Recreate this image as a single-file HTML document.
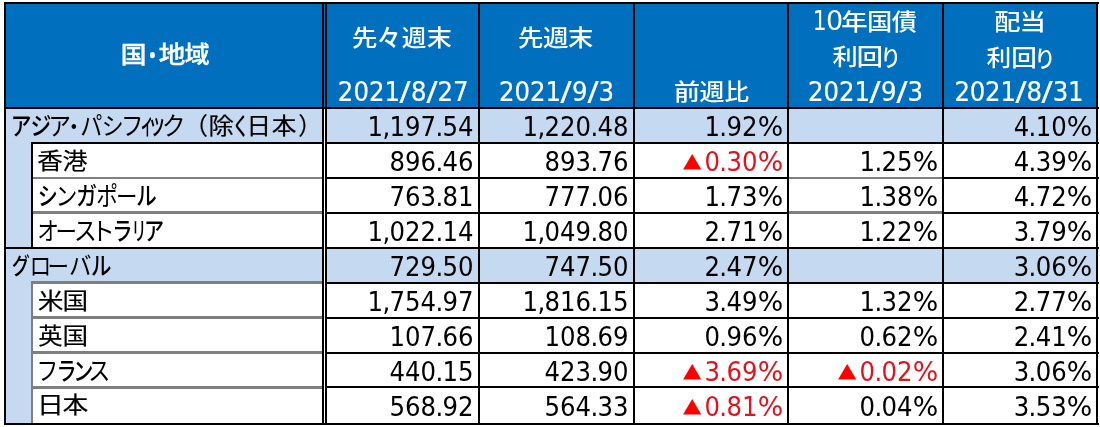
<!DOCTYPE html>
<html lang="ja">
<head>
<meta charset="utf-8">
<title>REIT指数 国・地域別</title>
<style>
html,body{margin:0;padding:0;background:#fff;}
body{width:1100px;height:427px;position:relative;overflow:hidden;}
#t{position:absolute;left:0;top:0;width:1100px;height:427px;overflow:hidden;font-family:"DejaVu Sans","Noto Sans CJK JP",sans-serif;color:#000;}
#t i{position:absolute;display:block;}
#t table{border-collapse:collapse;border-spacing:0;table-layout:fixed;width:1094px;margin:2px 0 0 4px;border:0;background:transparent;font-size:0;line-height:0;}
#t th,#t td{padding:0;border:0;margin:0;background:transparent;font-weight:normal;text-align:left;overflow:visible;}
#t span{position:absolute;white-space:nowrap;line-height:1;display:block;}
#t span.g{left:0;width:1100px;height:0;}
#t span.g b{position:absolute;top:0;left:0;display:block;font-weight:inherit;transform-origin:0 0.96em;line-height:1;}
#t span.g b.d{font-family:"DejaVu Sans","Liberation Sans",sans-serif;}
.n{font-family:"DejaVu Sans","Liberation Sans",sans-serif;}
.j{font-family:"Noto Sans CJK JP","Liberation Sans",sans-serif;}
.k{-webkit-text-stroke:0.2px #000;}
.hd{-webkit-text-stroke:0.2px #fff;}
.w{color:#fff;}
.hb{-webkit-text-stroke:0.35px #fff;}

.r{color:#E01420;}
.sl{display:inline-block;font-weight:normal;transform:scaleX(1.35);margin:0 1.4px;}
.p{display:inline-block;font-weight:normal;margin:0 -0.65px;}
.pc{display:inline-block;font-weight:normal;transform:scaleX(1.10);transform-origin:100% 50%;margin-left:2.2px;}
.tri{font-weight:normal;font-family:"Noto Sans CJK JP","DejaVu Sans",sans-serif;display:inline-block;font-size:19.4px;position:relative;top:-1.2px;margin-right:2.6px;color:#FF0000;transform:scaleY(0.93);transform-origin:50% 88%;}
</style>
</head>
<body>
<div id="t">
<div class="grid" aria-hidden="true">
<i style="left:4px;top:2px;width:1094px;height:107px;background:#006FBD"></i>
<i style="left:4px;top:107px;width:1094px;height:35px;background:#C5D9F1"></i>
<i style="left:4px;top:247px;width:1094px;height:35px;background:#C5D9F1"></i>
<i style="left:4px;top:142px;width:27px;height:105px;background:#C5D9F1"></i>
<i style="left:4px;top:282px;width:27px;height:141px;background:#C5D9F1"></i>
<i style="left:4px;top:2px;width:1095px;height:2px;background:#000"></i>
<i style="left:4px;top:423px;width:1095px;height:2px;background:#000"></i>
<i style="left:4px;top:107px;width:1095px;height:2px;background:#000"></i>
<i style="left:31px;top:142px;width:1068px;height:2px;background:#000"></i>
<i style="left:31px;top:177px;width:291px;height:2px;background:#7f7f7f"></i>
<i style="left:322px;top:177px;width:777px;height:2px;background:#000"></i>
<i style="left:31px;top:211px;width:291px;height:3px;background:#7f7f7f"></i>
<i style="left:322px;top:212px;width:777px;height:2px;background:#000"></i>
<i style="left:4px;top:247px;width:1095px;height:2px;background:#000"></i>
<i style="left:31px;top:281px;width:291px;height:3px;background:#7f7f7f"></i>
<i style="left:322px;top:282px;width:777px;height:2px;background:#000"></i>
<i style="left:31px;top:316px;width:291px;height:3px;background:#7f7f7f"></i>
<i style="left:322px;top:317px;width:777px;height:2px;background:#000"></i>
<i style="left:31px;top:351px;width:291px;height:3px;background:#7f7f7f"></i>
<i style="left:322px;top:352px;width:777px;height:2px;background:#000"></i>
<i style="left:31px;top:386px;width:291px;height:3px;background:#7f7f7f"></i>
<i style="left:322px;top:386px;width:777px;height:2px;background:#000"></i>
<i style="left:789px;top:177px;width:153px;height:2px;background:#7f7f7f"></i>
<i style="left:789px;top:211px;width:153px;height:3px;background:#7f7f7f"></i>
<i style="left:4px;top:2px;width:2px;height:423px;background:#000"></i>
<i style="left:1096px;top:2px;width:2px;height:423px;background:#000"></i>
<i style="left:478px;top:2px;width:2px;height:423px;background:#000"></i>
<i style="left:633px;top:2px;width:2px;height:423px;background:#000"></i>
<i style="left:787px;top:2px;width:2px;height:423px;background:#000"></i>
<i style="left:942px;top:2px;width:2px;height:423px;background:#000"></i>
<i style="left:322px;top:2px;width:2px;height:423px;background:#000"></i>
<i style="left:325px;top:2px;width:2px;height:423px;background:#000"></i>
<i style="left:324px;top:109px;width:1px;height:314px;background:#fff"></i>
<i style="left:31px;top:142px;width:2px;height:105px;background:#000"></i>
<i style="left:31px;top:282px;width:2px;height:141px;background:#7f7f7f"></i>
</div>
<table>
<colgroup><col style="width:321px"><col style="width:154px"><col style="width:155px"><col style="width:154px"><col style="width:155px"><col style="width:155px"></colgroup>
<thead>
<tr style="height:106px">
<th scope="col"><span class="g j w hb" aria-label="国・地域" style="top:40.70px;font-size:24.6px;font-weight:500"><b style="transform:translate(120.79px,-0.75px) scale(1.047,0.95)">国</b><b style="transform:translate(142.39px,1.2px) scale(0.806,1.0)">・</b><b style="transform:translate(158.85px,-0.75px) scale(1.083,0.95)">地</b><b style="transform:translate(184.49px,-0.75px) scale(1.023,0.95)">域</b></span></th>
<th scope="col"><span class="g j w" aria-label="先々週末" style="top:23.50px;font-size:24.6px;font-weight:500"><b style="transform:translate(351.88px,-0.75px) scale(1.035,0.94)">先</b><b style="transform:translate(376.72px,-0.45px) scale(0.987,1.015)">々</b><b style="transform:translate(401.69px,-0.75px) scale(1.001,0.94)">週</b><b style="transform:translate(426.82px,-0.75px) scale(1.021,0.94)">末</b></span><br><span class="n w hd" aria-label="2021/8/27" style="left:103.19999999999999px;width:600px;text-align:center;top:81.3px;font-size:24.4px;transform:scale(1,1.06);transform-origin:center 85%">2021<b class="sl">/</b>8<b class="sl">/</b>27</span></th>
<th scope="col"><span class="g j w" aria-label="先週末" style="top:23.50px;font-size:24.6px;font-weight:500"><b style="transform:translate(517.98px,-0.75px) scale(1.035,0.94)">先</b><b style="transform:translate(543.06px,-0.75px) scale(1.04,0.94)">週</b><b style="transform:translate(568.12px,-0.75px) scale(1.025,0.94)">末</b></span><br><span class="n w hd" aria-label="2021/9/3" style="left:256.5px;width:600px;text-align:center;top:81.3px;font-size:24.4px;transform:scale(1,1.06);transform-origin:center 85%">2021<b class="sl">/</b>9<b class="sl">/</b>3</span></th>
<th scope="col"><span class="g j w" aria-label="前週比" style="top:78.00px;font-size:24.6px;font-weight:500"><b style="transform:translate(673.78px,-0.75px) scale(1.069,0.94)">前</b><b style="transform:translate(699.57px,-0.75px) scale(1.018,0.94)">週</b><b style="transform:translate(724.61px,-0.75px) scale(1.001,0.94)">比</b></span></th>
<th scope="col"><span class="g j w" aria-label="10年国債" style="top:7.90px;font-size:24.6px;font-weight:500"><b class="d" style="transform:translate(812.7px,2.50px) scale(0.89,1.06)">1</b><b class="d" style="transform:translate(825.92px,2.50px) scale(1.097,1.06)">0</b><b style="transform:translate(841.14px,-0.75px) scale(1.073,0.94)">年</b><b style="transform:translate(866.93px,-0.75px) scale(1.027,0.94)">国</b><b style="transform:translate(891.77px,-0.75px) scale(1.022,0.94)">債</b></span><br><span class="g j w" aria-label="利回り" style="top:43.00px;font-size:24.6px;font-weight:500"><b style="transform:translate(832.49px,-0.75px) scale(1.026,0.94)">利</b><b style="transform:translate(856.68px,-0.75px) scale(1.065,0.94)">回</b><b style="transform:translate(880.17px,0px) scale(0.852,0.93)">り</b></span><br><span class="n w hd" aria-label="2021/9/3" style="left:565.5px;width:600px;text-align:center;top:81.3px;font-size:24.4px;transform:scale(1,1.06);transform-origin:center 85%">2021<b class="sl">/</b>9<b class="sl">/</b>3</span></th>
<th scope="col"><span class="g j w" aria-label="配当" style="top:7.70px;font-size:24.6px;font-weight:500"><b style="transform:translate(994.36px,-0.75px) scale(1.069,0.94)">配</b><b style="transform:translate(1019.44px,-0.75px) scale(1.075,0.94)">当</b></span><br><span class="g j w" aria-label="利回り" style="top:43.50px;font-size:24.6px;font-weight:500"><b style="transform:translate(986.61px,-0.75px) scale(1.004,0.94)">利</b><b style="transform:translate(1011.33px,-0.75px) scale(1.041,0.94)">回</b><b style="transform:translate(1034.1px,0px) scale(0.886,0.93)">り</b></span><br><span class="n w hd" aria-label="2021/8/31" style="left:718.9px;width:600px;text-align:center;top:81.3px;font-size:24.4px;letter-spacing:-0.2px;transform:scale(1,1.06);transform-origin:center 85%">2021<b class="sl">/</b>8<b class="sl">/</b>31</span></th>
</tr>
</thead>
<tbody>
<tr class="grp" style="height:35px">
<th scope="row"><span class="g j" aria-label="アジア・パシフィック（除く日本）" style="top:113.00px;font-size:24px;font-weight:400"><b style="transform:translate(10.63px,0px) scale(0.866,1.04);font-weight:500">ア</b><b style="transform:translate(30.46px,0px) scale(0.874,1.04);font-weight:500">ジ</b><b style="transform:translate(48.62px,0px) scale(0.935,1.04)">ア</b><b style="transform:translate(63.14px,0px) scale(0.884,1.0)">・</b><b style="transform:translate(80.18px,0px) scale(0.924,1.04)">パ</b><b style="transform:translate(101.68px,0px) scale(0.914,1.04)">シ</b><b style="transform:translate(120.94px,0px) scale(0.937,1.04)">フ</b><b style="transform:translate(140.21px,-0.8px) scale(0.575,1.15);font-weight:500">ィ</b><b style="transform:translate(148.03px,-0.8px) scale(0.747,1.15);font-weight:500">ッ</b><b style="transform:translate(162.07px,0px) scale(0.981,1.04)">ク</b><b class="k" style="transform:translate(184.06px,-1.0px) scale(0.997,1.0)">（</b><b class="k" style="transform:translate(208.55px,-0.75px) scale(1.057,0.97)">除</b><b style="transform:translate(232.48px,0px) scale(0.697,1.04);font-weight:500">く</b><b class="k" style="transform:translate(246.58px,-0.75px) scale(1.023,0.97)">日</b><b class="k" style="transform:translate(271.74px,-0.75px) scale(1.027,0.97)">本</b><b class="k" style="transform:translate(298.13px,-1.0px) scale(0.965,1.0)">）</b></span></th>
<td><span class="n" aria-label="1,197.54" style="right:626.4px;top:115.6px;font-size:24.4px;transform:scale(1,1.06);transform-origin:right 85%">1<b class="p">,</b>197<b class="p">.</b>54</span></td>
<td><span class="n" aria-label="1,220.48" style="right:471.4px;top:115.6px;font-size:24.4px;transform:scale(1,1.06);transform-origin:right 85%">1<b class="p">,</b>220<b class="p">.</b>48</span></td>
<td><span class="n" aria-label="1.92%" style="right:317.2px;top:115.6px;font-size:24.4px;transform:scale(1,1.06);transform-origin:right 85%">1<b class="p">.</b>92<b class="pc">%</b></span></td>
<td></td>
<td><span class="n" aria-label="4.10%" style="right:7.9px;top:115.6px;font-size:24.4px;transform:scale(1,1.06);transform-origin:right 85%">4<b class="p">.</b>10<b class="pc">%</b></span></td>
</tr>
<tr style="height:35px">
<th scope="row"><span class="g j" aria-label="香港" style="top:148.00px;font-size:24px;font-weight:400"><b class="k" style="transform:translate(37.26px,-0.75px) scale(1.064,0.97)">香</b><b class="k" style="transform:translate(62.53px,-0.75px) scale(1.041,0.97)">港</b></span></th>
<td><span class="n" aria-label="896.46" style="right:626.4px;top:150.6px;font-size:24.4px;transform:scale(1,1.06);transform-origin:right 85%">896<b class="p">.</b>46</span></td>
<td><span class="n" aria-label="893.76" style="right:471.4px;top:150.6px;font-size:24.4px;transform:scale(1,1.06);transform-origin:right 85%">893<b class="p">.</b>76</span></td>
<td><span class="n r" aria-label="▲0.30%" style="right:317.2px;top:150.6px;font-size:24.4px;transform:scale(1,1.06);transform-origin:right 85%"><b class="tri">▲</b>0<b class="p">.</b>30<b class="pc">%</b></span></td>
<td><span class="n" aria-label="1.25%" style="right:162.0px;top:150.6px;font-size:24.4px;transform:scale(1,1.06);transform-origin:right 85%">1<b class="p">.</b>25<b class="pc">%</b></span></td>
<td><span class="n" aria-label="4.39%" style="right:7.9px;top:150.6px;font-size:24.4px;transform:scale(1,1.06);transform-origin:right 85%">4<b class="p">.</b>39<b class="pc">%</b></span></td>
</tr>
<tr style="height:35px">
<th scope="row"><span class="g j" aria-label="シンガポール" style="top:183.00px;font-size:24px;font-weight:400"><b style="transform:translate(37.69px,0px) scale(0.837,1.04);font-weight:500">シ</b><b style="transform:translate(55.62px,0px) scale(0.911,1.04)">ン</b><b style="transform:translate(76.18px,0px) scale(0.864,1.04);font-weight:500">ガ</b><b style="transform:translate(96.17px,0px) scale(0.908,1.04)">ポ</b><b style="transform:translate(115.91px,0px) scale(0.896,1.0)">ー</b><b style="transform:translate(136.19px,0px) scale(0.855,1.04);font-weight:500">ル</b></span></th>
<td><span class="n" aria-label="763.81" style="right:626.4px;top:185.6px;font-size:24.4px;transform:scale(1,1.06);transform-origin:right 85%">763<b class="p">.</b>81</span></td>
<td><span class="n" aria-label="777.06" style="right:471.4px;top:185.6px;font-size:24.4px;transform:scale(1,1.06);transform-origin:right 85%">777<b class="p">.</b>06</span></td>
<td><span class="n" aria-label="1.73%" style="right:317.2px;top:185.6px;font-size:24.4px;transform:scale(1,1.06);transform-origin:right 85%">1<b class="p">.</b>73<b class="pc">%</b></span></td>
<td><span class="n" aria-label="1.38%" style="right:162.0px;top:185.6px;font-size:24.4px;transform:scale(1,1.06);transform-origin:right 85%">1<b class="p">.</b>38<b class="pc">%</b></span></td>
<td><span class="n" aria-label="4.72%" style="right:7.9px;top:185.6px;font-size:24.4px;transform:scale(1,1.06);transform-origin:right 85%">4<b class="p">.</b>72<b class="pc">%</b></span></td>
</tr>
<tr style="height:35px">
<th scope="row"><span class="g j" aria-label="オーストラリア" style="top:218.00px;font-size:24px;font-weight:400"><b style="transform:translate(37.24px,0px) scale(0.903,1.04)">オ</b><b style="transform:translate(55.51px,0px) scale(0.896,1.0)">ー</b><b style="transform:translate(74.02px,0px) scale(0.949,1.04)">ス</b><b style="transform:translate(91.12px,0px) scale(0.997,1.04)">ト</b><b style="transform:translate(112.32px,0px) scale(0.847,1.04);font-weight:500">ラ</b><b style="transform:translate(131.6px,0px) scale(0.619,1.04);font-weight:500">リ</b><b style="transform:translate(143.9px,0px) scale(0.84,1.04);font-weight:500">ア</b></span></th>
<td><span class="n" aria-label="1,022.14" style="right:626.4px;top:220.6px;font-size:24.4px;transform:scale(1,1.06);transform-origin:right 85%">1<b class="p">,</b>022<b class="p">.</b>14</span></td>
<td><span class="n" aria-label="1,049.80" style="right:471.4px;top:220.6px;font-size:24.4px;transform:scale(1,1.06);transform-origin:right 85%">1<b class="p">,</b>049<b class="p">.</b>80</span></td>
<td><span class="n" aria-label="2.71%" style="right:317.2px;top:220.6px;font-size:24.4px;transform:scale(1,1.06);transform-origin:right 85%">2<b class="p">.</b>71<b class="pc">%</b></span></td>
<td><span class="n" aria-label="1.22%" style="right:162.0px;top:220.6px;font-size:24.4px;transform:scale(1,1.06);transform-origin:right 85%">1<b class="p">.</b>22<b class="pc">%</b></span></td>
<td><span class="n" aria-label="3.79%" style="right:7.9px;top:220.6px;font-size:24.4px;transform:scale(1,1.06);transform-origin:right 85%">3<b class="p">.</b>79<b class="pc">%</b></span></td>
</tr>
<tr class="grp" style="height:35px">
<th scope="row"><span class="g j" aria-label="グローバル" style="top:253.00px;font-size:24px;font-weight:400"><b style="transform:translate(11.69px,-0.6px) scale(0.754,0.946);font-weight:500">グ</b><b style="transform:translate(29.54px,0px) scale(0.909,1.04)">ロ</b><b style="transform:translate(47.61px,0px) scale(0.896,1.0)">ー</b><b style="transform:translate(69.06px,0px) scale(0.936,1.04)">バ</b><b style="transform:translate(90.99px,0px) scale(0.855,1.04);font-weight:500">ル</b></span></th>
<td><span class="n" aria-label="729.50" style="right:626.4px;top:255.6px;font-size:24.4px;transform:scale(1,1.06);transform-origin:right 85%">729<b class="p">.</b>50</span></td>
<td><span class="n" aria-label="747.50" style="right:471.4px;top:255.6px;font-size:24.4px;transform:scale(1,1.06);transform-origin:right 85%">747<b class="p">.</b>50</span></td>
<td><span class="n" aria-label="2.47%" style="right:317.2px;top:255.6px;font-size:24.4px;transform:scale(1,1.06);transform-origin:right 85%">2<b class="p">.</b>47<b class="pc">%</b></span></td>
<td></td>
<td><span class="n" aria-label="3.06%" style="right:7.9px;top:255.6px;font-size:24.4px;transform:scale(1,1.06);transform-origin:right 85%">3<b class="p">.</b>06<b class="pc">%</b></span></td>
</tr>
<tr style="height:35px">
<th scope="row"><span class="g j" aria-label="米国" style="top:288.00px;font-size:24px;font-weight:400"><b class="k" style="transform:translate(37.7px,-0.75px) scale(1.076,0.97)">米</b><b class="k" style="transform:translate(62.5px,-0.75px) scale(1.067,0.97)">国</b></span></th>
<td><span class="n" aria-label="1,754.97" style="right:626.4px;top:290.6px;font-size:24.4px;transform:scale(1,1.06);transform-origin:right 85%">1<b class="p">,</b>754<b class="p">.</b>97</span></td>
<td><span class="n" aria-label="1,816.15" style="right:471.4px;top:290.6px;font-size:24.4px;transform:scale(1,1.06);transform-origin:right 85%">1<b class="p">,</b>816<b class="p">.</b>15</span></td>
<td><span class="n" aria-label="3.49%" style="right:317.2px;top:290.6px;font-size:24.4px;transform:scale(1,1.06);transform-origin:right 85%">3<b class="p">.</b>49<b class="pc">%</b></span></td>
<td><span class="n" aria-label="1.32%" style="right:162.0px;top:290.6px;font-size:24.4px;transform:scale(1,1.06);transform-origin:right 85%">1<b class="p">.</b>32<b class="pc">%</b></span></td>
<td><span class="n" aria-label="2.77%" style="right:7.9px;top:290.6px;font-size:24.4px;transform:scale(1,1.06);transform-origin:right 85%">2<b class="p">.</b>77<b class="pc">%</b></span></td>
</tr>
<tr style="height:35px">
<th scope="row"><span class="g j" aria-label="英国" style="top:323.00px;font-size:24px;font-weight:400"><b class="k" style="transform:translate(38.18px,-0.75px) scale(1.011,0.97)">英</b><b class="k" style="transform:translate(62.5px,-0.75px) scale(1.067,0.97)">国</b></span></th>
<td><span class="n" aria-label="107.66" style="right:626.4px;top:325.6px;font-size:24.4px;transform:scale(1,1.06);transform-origin:right 85%">107<b class="p">.</b>66</span></td>
<td><span class="n" aria-label="108.69" style="right:471.4px;top:325.6px;font-size:24.4px;transform:scale(1,1.06);transform-origin:right 85%">108<b class="p">.</b>69</span></td>
<td><span class="n" aria-label="0.96%" style="right:317.2px;top:325.6px;font-size:24.4px;transform:scale(1,1.06);transform-origin:right 85%">0<b class="p">.</b>96<b class="pc">%</b></span></td>
<td><span class="n" aria-label="0.62%" style="right:162.0px;top:325.6px;font-size:24.4px;transform:scale(1,1.06);transform-origin:right 85%">0<b class="p">.</b>62<b class="pc">%</b></span></td>
<td><span class="n" aria-label="2.41%" style="right:7.9px;top:325.6px;font-size:24.4px;transform:scale(1,1.06);transform-origin:right 85%">2<b class="p">.</b>41<b class="pc">%</b></span></td>
</tr>
<tr style="height:34px">
<th scope="row"><span class="g j" aria-label="フランス" style="top:358.00px;font-size:24px;font-weight:400"><b style="transform:translate(36.44px,0px) scale(0.908,1.04)">フ</b><b style="transform:translate(56.45px,0px) scale(0.836,1.04);font-weight:500">ラ</b><b style="transform:translate(73.19px,0px) scale(0.837,1.04);font-weight:500">ン</b><b style="transform:translate(88.2px,0px) scale(0.918,1.04)">ス</b></span></th>
<td><span class="n" aria-label="440.15" style="right:626.4px;top:360.6px;font-size:24.4px;transform:scale(1,1.06);transform-origin:right 85%">440<b class="p">.</b>15</span></td>
<td><span class="n" aria-label="423.90" style="right:471.4px;top:360.6px;font-size:24.4px;transform:scale(1,1.06);transform-origin:right 85%">423<b class="p">.</b>90</span></td>
<td><span class="n r" aria-label="▲3.69%" style="right:317.2px;top:360.6px;font-size:24.4px;transform:scale(1,1.06);transform-origin:right 85%"><b class="tri">▲</b>3<b class="p">.</b>69<b class="pc">%</b></span></td>
<td><span class="n r" aria-label="▲0.02%" style="right:162.0px;top:360.6px;font-size:24.4px;transform:scale(1,1.06);transform-origin:right 85%"><b class="tri">▲</b>0<b class="p">.</b>02<b class="pc">%</b></span></td>
<td><span class="n" aria-label="3.06%" style="right:7.9px;top:360.6px;font-size:24.4px;transform:scale(1,1.06);transform-origin:right 85%">3<b class="p">.</b>06<b class="pc">%</b></span></td>
</tr>
<tr style="height:38px">
<th scope="row"><span class="g j" aria-label="日本" style="top:392.30px;font-size:24px;font-weight:400"><b class="k" style="transform:translate(36.88px,-0.75px) scale(1.118,0.97)">日</b><b class="k" style="transform:translate(62.4px,-0.75px) scale(1.072,0.97)">本</b></span></th>
<td><span class="n" aria-label="568.92" style="right:626.4px;top:395.6px;font-size:24.4px;transform:scale(1,1.06);transform-origin:right 85%">568<b class="p">.</b>92</span></td>
<td><span class="n" aria-label="564.33" style="right:471.4px;top:395.6px;font-size:24.4px;transform:scale(1,1.06);transform-origin:right 85%">564<b class="p">.</b>33</span></td>
<td><span class="n r" aria-label="▲0.81%" style="right:317.2px;top:395.6px;font-size:24.4px;transform:scale(1,1.06);transform-origin:right 85%"><b class="tri">▲</b>0<b class="p">.</b>81<b class="pc">%</b></span></td>
<td><span class="n" aria-label="0.04%" style="right:162.0px;top:395.6px;font-size:24.4px;transform:scale(1,1.06);transform-origin:right 85%">0<b class="p">.</b>04<b class="pc">%</b></span></td>
<td><span class="n" aria-label="3.53%" style="right:7.9px;top:395.6px;font-size:24.4px;transform:scale(1,1.06);transform-origin:right 85%">3<b class="p">.</b>53<b class="pc">%</b></span></td>
</tr>
</tbody>
</table>
</div>
</body>
</html>
